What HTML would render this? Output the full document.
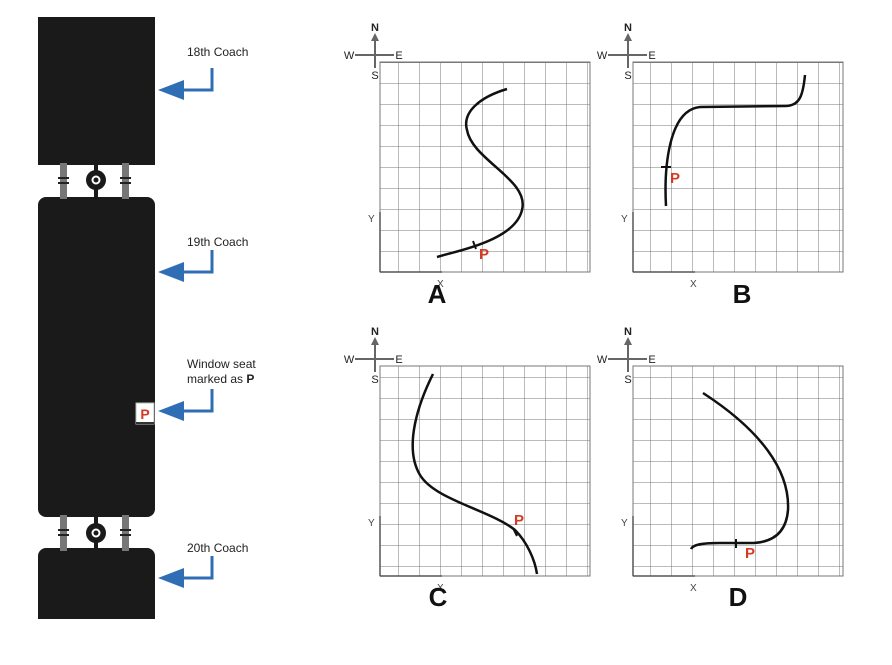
<!DOCTYPE html>
<html><head><style>
body{margin:0;width:892px;height:660px;background:#fff;overflow:hidden;font-family:"Liberation Sans",sans-serif}
</style></head><body>
<svg width="892" height="660" xmlns="http://www.w3.org/2000/svg" font-family="Liberation Sans, sans-serif">
<defs>
<pattern id="g" width="21" height="21" patternUnits="userSpaceOnUse"><path d="M21 0V21H0" fill="none" stroke="#777" stroke-width="1"/></pattern>
<g id="comp">
<line x1="0" y1="-20" x2="0" y2="13" stroke="#666" stroke-width="2"/>
<line x1="-20" y1="0" x2="19" y2="0" stroke="#666" stroke-width="2"/>
<path d="M-4,-14 L0,-22 L4,-14Z" fill="#666"/>
<text x="0" y="-24" font-size="11" text-anchor="middle" font-weight="bold" fill="#222">N</text>
<text x="-26" y="4" font-size="11" text-anchor="middle" fill="#222">W</text>
<text x="24" y="4" font-size="11" text-anchor="middle" fill="#222">E</text>
<text x="0" y="24" font-size="11" text-anchor="middle" fill="#222">S</text>
</g>
</defs>
<!-- train -->
<rect x="38" y="17" width="117" height="148" fill="#1a1a1a"/>
<rect x="38" y="150" width="117" height="15" rx="8" fill="#1a1a1a"/>
<rect x="38" y="197" width="117" height="320" rx="8" fill="#1a1a1a"/>
<rect x="38" y="548" width="117" height="30" rx="8" fill="#1a1a1a"/>
<rect x="38" y="560" width="117" height="59" fill="#1a1a1a"/>
<g fill="#777">
<rect x="60" y="163" width="7" height="36"/><rect x="122" y="163" width="7" height="36"/>
<rect x="60" y="515" width="7" height="36"/><rect x="122" y="515" width="7" height="36"/>
</g>
<g stroke="#222" stroke-width="2">
<line x1="58" y1="178" x2="69" y2="178"/><line x1="58" y1="183" x2="69" y2="183"/>
<line x1="120" y1="178" x2="131" y2="178"/><line x1="120" y1="183" x2="131" y2="183"/>
<line x1="58" y1="530" x2="69" y2="530"/><line x1="58" y1="535" x2="69" y2="535"/>
<line x1="120" y1="530" x2="131" y2="530"/><line x1="120" y1="535" x2="131" y2="535"/>
</g>
<rect x="94" y="163" width="4" height="36" fill="#1a1a1a"/>
<circle cx="96" cy="180" r="10" fill="#1a1a1a"/><circle cx="96" cy="180" r="3.5" fill="none" stroke="#fff" stroke-width="2"/>
<rect x="94" y="515" width="4" height="36" fill="#1a1a1a"/>
<circle cx="96" cy="533" r="10" fill="#1a1a1a"/><circle cx="96" cy="533" r="3.5" fill="none" stroke="#fff" stroke-width="2"/>
<rect x="136" y="403" width="18" height="21" fill="#fff" stroke="#bbb"/>
<line x1="136" y1="423" x2="154" y2="423" stroke="#333" stroke-width="2"/>
<text x="145" y="419" font-size="14" font-weight="bold" fill="#d63a25" text-anchor="middle">P</text>
<!-- arrows -->
<g fill="none" stroke="#2f6db5" stroke-width="3">
<path d="M212,68 V90 H178"/><path d="M212,250 V272 H178"/><path d="M212,389 V411 H178"/><path d="M212,556 V578 H178"/>
</g>
<g fill="#2f6db5">
<path d="M158,90 L184,80 L184,100Z"/><path d="M158,272 L184,262 L184,282Z"/><path d="M158,411 L184,401 L184,421Z"/><path d="M158,578 L184,568 L184,588Z"/>
</g>
<g font-size="12" fill="#222">
<text x="187" y="56">18th Coach</text>
<text x="187" y="246">19th Coach</text>
<text x="187" y="368">Window seat</text>
<text x="187" y="383">marked as <tspan font-weight="bold">P</tspan></text>
<text x="187" y="552">20th Coach</text>
</g>
<!-- grids -->
<g>
<rect x="380" y="62" width="210" height="210" fill="url(#g)"/>
<rect x="633" y="62" width="210" height="210" fill="url(#g)"/>
<rect x="380" y="366" width="210" height="210" fill="url(#g)"/>
<rect x="633" y="366" width="210" height="210" fill="url(#g)"/>
</g>
<g fill="none" stroke="#777"><rect x="380" y="62" width="210" height="210"/><rect x="633" y="62" width="210" height="210"/><rect x="380" y="366" width="210" height="210"/><rect x="633" y="366" width="210" height="210"/></g>
<use href="#comp" x="375" y="55"/><use href="#comp" x="628" y="55"/><use href="#comp" x="375" y="359"/><use href="#comp" x="628" y="359"/>
<!-- axes -->
<g stroke="#555" stroke-width="1.5">
<line x1="380" y1="272" x2="380" y2="212"/><line x1="380" y1="272" x2="442" y2="272"/>
<line x1="633" y1="272" x2="633" y2="212"/><line x1="633" y1="272" x2="695" y2="272"/>
<line x1="380" y1="576" x2="380" y2="516"/><line x1="380" y1="576" x2="442" y2="576"/>
<line x1="633" y1="576" x2="633" y2="516"/><line x1="633" y1="576" x2="695" y2="576"/>
</g>
<g font-size="10" fill="#444">
<text x="368" y="222">Y</text><text x="437" y="287">X</text>
<text x="621" y="222">Y</text><text x="690" y="287">X</text>
<text x="368" y="526">Y</text><text x="437" y="591">X</text>
<text x="621" y="526">Y</text><text x="690" y="591">X</text>
</g>
<!-- curves -->
<g fill="none" stroke="#111" stroke-width="2.5">
<path d="M507,89 C480,97 462,112 467,130 C472,160 530,180 522,210 C515,240 460,250 437,257"/>
<path d="M666,206 C664,170 668,110 700,107 L785,106 C800,106 803,95 805,75"/>
<path d="M433,374 C415,410 405,450 420,475 C435,500 490,510 515,530 C527,542 535,560 537,574"/>
<path d="M703,393 C760,430 790,470 788,510 C786,535 770,543 750,543 L720,543 C700,543 693,545 691,549"/>
</g>
<g stroke="#111" stroke-width="2">
<line x1="473" y1="241" x2="476" y2="249"/><line x1="661" y1="167" x2="671" y2="167"/>
<line x1="513" y1="528" x2="517" y2="536"/><line x1="736" y1="539" x2="736" y2="548"/>
</g>
<g font-size="15" font-weight="bold" fill="#d63a25">
<text x="479" y="259">P</text><text x="670" y="183">P</text><text x="514" y="525">P</text><text x="745" y="558">P</text>
</g>
<g font-size="26" font-weight="bold" fill="#111" text-anchor="middle">
<text x="437" y="303">A</text><text x="742" y="303">B</text><text x="438" y="606">C</text><text x="738" y="606">D</text>
</g>
</svg>
</body></html>
